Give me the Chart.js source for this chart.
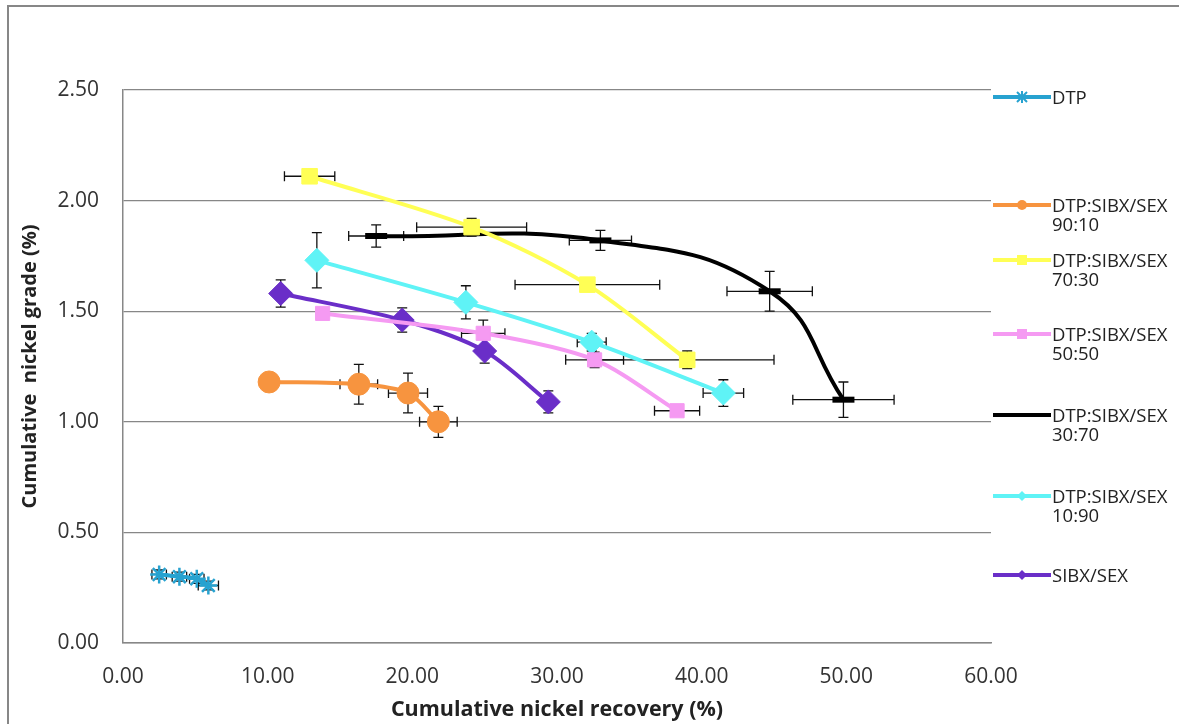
<!DOCTYPE html>
<html lang="en">
<head>
    <meta charset="UTF-8">
    <title>Cumulative nickel grade vs recovery</title>
    <script src="https://cdn.jsdelivr.net/npm/chart.js@4.4.1/dist/chart.umd.min.js"></script>
    <style>
        body { margin: 0; background: #fff; font-family: "Open Sans", sans-serif; }
        #wrap { position: relative; width: 1179px; height: 724px; overflow: hidden; }
        #frame { position: absolute; left: 7px; top: 5px; width: 1300px; height: 900px;
                 border-left: 2px solid #878787; border-top: 2px solid #878787; }
        #chart { position: absolute; left: 0; top: 0; }
        .leg { position: absolute; left: 993px; font-size: 18.5px; color: #222; line-height: 19px; }
        .leg svg { position: absolute; left: 0; top: 1px; }
        .leg span { position: absolute; left: 59px; top: -1px; white-space: nowrap; }
    </style>
</head>
<body>
<div id="wrap">
    <div id="frame"></div>
    <canvas id="chart" width="1179" height="724"></canvas>
    <div id="legend"></div>
</div>
<script>
    // series names
    const seriesNames = ['DTP', 'DTP:SIBX/SEX 90:10', 'DTP:SIBX/SEX 70:30', 'DTP:SIBX/SEX 50:50',
                         'DTP:SIBX/SEX 30:70', 'DTP:SIBX/SEX 10:90', 'SIBX/SEX'];

    // cumulative nickel recovery (%)
    const dtpX = [2.5, 3.9, 5.1, 5.9];
    const d90X = [10.1, 16.3, 19.7, 21.8];
    const d70X = [12.9, 24.1, 32.1, 39.0];
    const d50X = [13.8, 24.9, 32.6, 38.3];
    const d30X = [17.5, 33.0, 44.7, 49.8];
    const d10X = [13.4, 23.7, 32.4, 41.5];
    const sibxX = [10.9, 19.3, 25.0, 29.4];

    // cumulative nickel grade (%)
    const dtpY = [0.31, 0.30, 0.29, 0.26];
    const d90Y = [1.18, 1.17, 1.13, 1.00];
    const d70Y = [2.11, 1.88, 1.62, 1.28];
    const d50Y = [1.49, 1.40, 1.28, 1.05];
    const d30Y = [1.84, 1.82, 1.59, 1.10];
    const d10Y = [1.73, 1.54, 1.36, 1.13];
    const sibxY = [1.58, 1.46, 1.32, 1.09];

    // error bars (+/-)
    const dtpXErr = [0.5, 0.5, 0.5, 0.7];
    const dtpYErr = [0.02, 0.02, 0.02, 0.02];
    const d90XErr = [0, 1.3, 1.35, 1.3];
    const d90YErr = [0, 0.09, 0.09, 0.07];
    const d70XErr = [1.74, 3.8, 5.0, 6.0];
    const d70YErr = [0, 0.04, 0, 0.04];
    const d50XErr = [0, 1.5, 2.0, 1.56];
    const d50YErr = [0, 0.06, 0.035, 0];
    const d30XErr = [1.9, 2.15, 2.95, 3.5];
    const d30YErr = [0.05, 0.045, 0.09, 0.08];
    const d10XErr = [0, 0, 1.0, 1.4];
    const d10YErr = [0.125, 0.075, 0.04, 0.06];
    const sibxXErr = [0, 0, 0, 0];
    const sibxYErr = [0.062, 0.055, 0.055, 0.05];

    // axis ticks
    const xTicks = [0, 10, 20, 30, 40, 50, 60];
    const yTicks = [0, 0.5, 1, 1.5, 2, 2.5];

    const colors = ['#27a2d0', '#f7943f', '#ffff55', '#f59af2', '#000000', '#5ff3f6', '#6a2ec8'];
    const styles = [
        { pointStyle: 'star', pointRadius: 9, pointBorderWidth: 2.5 },
        { pointStyle: 'circle', pointRadius: 11, pointBorderWidth: 1 },
        { pointStyle: 'rect', pointRadius: 11, pointBorderWidth: 1 },
        { pointStyle: 'rect', pointRadius: 10, pointBorderWidth: 1 },
        { pointStyle: 'line', pointRadius: 11, pointBorderWidth: 6 },
        { pointStyle: 'rectRot', pointRadius: 12, pointBorderWidth: 1 },
        { pointStyle: 'rectRot', pointRadius: 12, pointBorderWidth: 1 }
    ];

    const xs = [dtpX, d90X, d70X, d50X, d30X, d10X, sibxX];
    const ys = [dtpY, d90Y, d70Y, d50Y, d30Y, d10Y, sibxY];
    const xErrs = [dtpXErr, d90XErr, d70XErr, d50XErr, d30XErr, d10XErr, sibxXErr];
    const yErrs = [dtpYErr, d90YErr, d70YErr, d50YErr, d30YErr, d10YErr, sibxYErr];
    const tensions = [0.3, 0.3, 0.3, 0.3, 0.45, 0.3, 0.3];

    const datasets = seriesNames.map((name, i) => ({
        label: name,
        data: xs[i].map((x, j) => ({ x: x, y: ys[i][j] })),
        xErr: xErrs[i],
        yErr: yErrs[i],
        showLine: true,
        borderColor: colors[i],
        backgroundColor: colors[i],
        pointBackgroundColor: colors[i],
        pointBorderColor: colors[i],
        borderWidth: 4,
        tension: tensions[i],
        ...styles[i]
    }));

    // draws the x/y error bars with the chart's own scales
    const errorBars = {
        id: 'errorBars',
        beforeDatasetsDraw(chart) {
            const ctx = chart.ctx;
            const sx = chart.scales.x, sy = chart.scales.y;
            const cap = 5;
            ctx.save();
            ctx.strokeStyle = '#111';
            ctx.lineWidth = 1.3;
            chart.data.datasets.forEach(ds => {
                ds.data.forEach((p, j) => {
                    const px = sx.getPixelForValue(p.x);
                    const py = sy.getPixelForValue(p.y);
                    const ex = ds.xErr[j], ey = ds.yErr[j];
                    ctx.beginPath();
                    if (ex > 0) {
                        const x1 = sx.getPixelForValue(p.x - ex), x2 = sx.getPixelForValue(p.x + ex);
                        ctx.moveTo(x1, py); ctx.lineTo(x2, py);
                        ctx.moveTo(x1, py - cap); ctx.lineTo(x1, py + cap);
                        ctx.moveTo(x2, py - cap); ctx.lineTo(x2, py + cap);
                    }
                    if (ey > 0) {
                        const y1 = sy.getPixelForValue(p.y - ey), y2 = sy.getPixelForValue(p.y + ey);
                        ctx.moveTo(px, y1); ctx.lineTo(px, y2);
                        ctx.moveTo(px - cap, y1); ctx.lineTo(px + cap, y1);
                        ctx.moveTo(px - cap, y2); ctx.lineTo(px + cap, y2);
                    }
                    ctx.stroke();
                });
            });
            ctx.restore();
        }
    };

    const tickFont = { family: 'Open Sans', size: 21 };

    new Chart(document.getElementById('chart'), {
        type: 'scatter',
        data: { datasets: datasets },
        options: {
            responsive: false,
            animation: false,
            layout: { padding: { left: 0, top: 90, right: 188, bottom: 0 } },
            plugins: { legend: { display: false }, tooltip: { enabled: false } },
            scales: {
                x: {
                    type: 'linear', min: 0, max: 60,
                    afterBuildTicks: s => { s.ticks = xTicks.map(v => ({ value: v })); },
                    afterFit: s => { s.height = 81; },
                    ticks: { font: tickFont, color: '#333', padding: 21, callback: v => v.toFixed(2) },
                    grid: { display: false, drawTicks: false },
                    border: { display: true, color: '#878787', width: 1.5 },
                    title: { display: true, text: 'Cumulative nickel recovery (%)',
                             font: { family: 'Open Sans', size: 21.5, weight: 'bold' },
                             color: '#222', padding: { top: 0, bottom: 1 } }
                },
                y: {
                    type: 'linear', min: 0, max: 2.5,
                    afterBuildTicks: s => { s.ticks = yTicks.map(v => ({ value: v })); },
                    afterFit: s => { s.width = 123; },
                    ticks: { font: tickFont, color: '#333', padding: 24, callback: v => v.toFixed(2) },
                    grid: { color: '#878787', lineWidth: 1.3, drawTicks: false },
                    border: { display: true, color: '#878787', width: 1.5 },
                    title: { display: true, text: 'Cumulative  nickel grade (%)',
                             font: { family: 'Open Sans', size: 20, weight: 'bold' },
                             color: '#222', padding: { top: 18, bottom: 0 } }
                }
            }
        },
        plugins: [errorBars]
    });

    // legend on the right, sample line + marker then the label text
    const legendTops = [88, 196, 251, 325, 406, 487, 566];
    function markerSvg(i) {
        const c = colors[i];
        let m = '';
        if (i === 0) m = `<path d="M24 3 L34 13 M34 3 L24 13 M29 2 L29 14" stroke="${c}" stroke-width="2"/>`;
        if (i === 1) m = `<circle cx="29" cy="8" r="5" fill="${c}"/>`;
        if (i === 2 || i === 3) m = `<rect x="24" y="3" width="10" height="10" fill="${c}"/>`;
        if (i === 5 || i === 6) m = `<path d="M29 3 L34 8 L29 13 L24 8 Z" fill="${c}"/>`;
        return `<svg width="58" height="16"><line x1="0" y1="8" x2="58" y2="8" stroke="${c}" stroke-width="4" stroke-linecap="round"/>${m}</svg>`;
    }
    const legend = document.getElementById('legend');
    seriesNames.forEach((name, i) => {
        const parts = name.split(' ');
        const div = document.createElement('div');
        div.className = 'leg';
        div.style.top = legendTops[i] + 'px';
        div.innerHTML = markerSvg(i) + '<span>' + parts.join('<br>') + '</span>';
        legend.appendChild(div);
    });
</script>
</body>
</html>
